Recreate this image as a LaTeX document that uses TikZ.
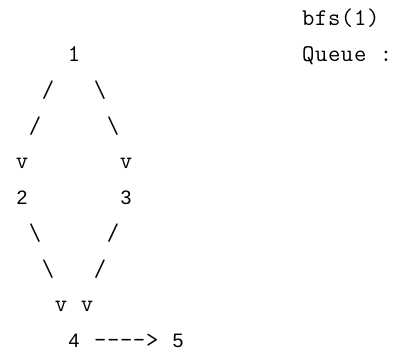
\documentclass[tikz,border=0pt]{standalone}
\usepackage{fontspec}
\newfontfamily\digitfont{Liberation Sans}
% fixed-pitch cell for typewriter strings
\newcommand\cell[1]{\makebox[13pt]{#1}}
\begin{document}
\begin{tikzpicture}[x=1pt,y=-1pt,
  tt/.style={inner sep=0pt, anchor=base, font=\fontsize{24}{24}\selectfont\ttfamily},
  ttline/.style={inner sep=0pt, anchor=base west, font=\fontsize{24}{24}\selectfont\ttfamily},
  dg/.style={inner sep=0pt, anchor=base, font=\fontsize{19.5}{19.5}\selectfont\digitfont}]
\useasboundingbox (0,0) rectangle (397,352);
% column c has centre 22+13c, row r has baseline 26+35.75r
% title and queue
\node[ttline] (title) at (301.5,26) {\cell{b}\cell{f}\cell{s}\cell{(}\cell{1}\cell{)}};
\node[ttline] (queue) at (301.5,61.75) {\cell{Q}\cell{u}\cell{e}\cell{u}\cell{e}\cell{}\cell{:}};
% vertex 1
\node[tt] (n1) at (74,61.75) {1};
% edges 1-2 and 1-3
\node[tt] (a1) at (48,97.5) {/};
\node[tt] (b1) at (100,97.5) {\textbackslash};
\node[tt] (a2) at (35,133.25) {/};
\node[tt] (b2) at (113,133.25) {\textbackslash};
\node[tt] (a3) at (22,169) {v};
\node[tt] (b3) at (126,169) {v};
% vertices 2 and 3
\node[dg] (n2) at (22,204.75) {2};
\node[dg] (n3) at (126,204.75) {3};
% edges 2-4 and 3-4
\node[tt] (c1) at (35,240.5) {\textbackslash};
\node[tt] (d1) at (113,240.5) {/};
\node[tt] (c2) at (48,276.25) {\textbackslash};
\node[tt] (d2) at (100,276.25) {/};
\node[tt] (c3) at (61,312) {v};
\node[tt] (d3) at (87,312) {v};
% vertices 4 and 5 with the edge between them
\node[dg] (n4) at (74,347.75) {4};
\node[ttline] (e45) at (93.5,347.75) {\cell{-}\cell{-}\cell{-}\cell{-}\cell{>}};
\node[dg] (n5) at (178,347.75) {5};
\end{tikzpicture}
\end{document}
